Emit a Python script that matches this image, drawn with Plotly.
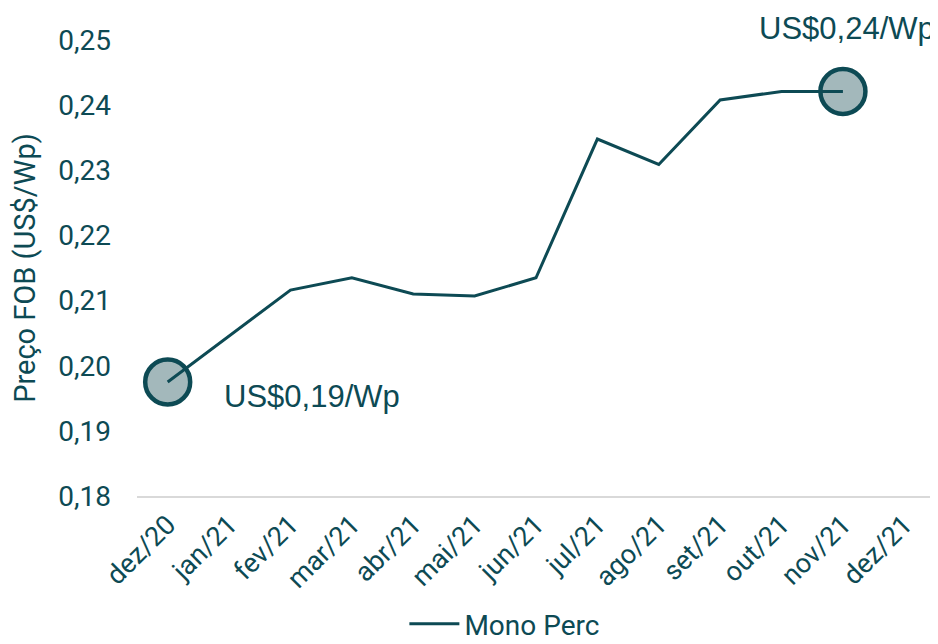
import plotly.graph_objects as go

categories = ["dez/20", "jan/21", "fev/21", "mar/21", "abr/21", "mai/21", "jun/21",
              "jul/21", "ago/21", "set/21", "out/21", "nov/21", "dez/21"]
mono_perc = [0.1975, 0.2046, 0.2116, 0.2135, 0.2110, 0.2107, 0.2135,
             0.2348, 0.2309, 0.2408, 0.2421, 0.2421]
y_ticks = [0.18, 0.19, 0.20, 0.21, 0.22, 0.23, 0.24, 0.25]
y_tick_text = ["0,18", "0,19", "0,20", "0,21", "0,22", "0,23", "0,24", "0,25"]
highlight_idx = [0, 11]
highlight_text = ["US$0,19/Wp", "US$0,24/Wp"]

DARK = "#0d4a54"
FILL = "#a3b8bb"

fig = go.Figure()
fig.add_trace(go.Scatter(
    x=[categories[i] for i in highlight_idx],
    y=[mono_perc[i] for i in highlight_idx],
    mode="markers", cliponaxis=False,
    marker=dict(size=45, color=FILL, line=dict(color=DARK, width=4.5)),
    showlegend=False, hoverinfo="skip"))
fig.add_trace(go.Scatter(
    x=categories[:len(mono_perc)], y=mono_perc, mode="lines",
    name="Mono Perc", line=dict(color=DARK, width=3)))

fig.add_annotation(x=categories[highlight_idx[0]], y=mono_perc[highlight_idx[0]],
                   text=highlight_text[0], showarrow=False, xanchor="left",
                   xshift=54, yshift=-14,
                   font=dict(family="Liberation Sans, Arial", size=31, color=DARK))
fig.add_annotation(x=categories[highlight_idx[1]], y=mono_perc[highlight_idx[1]],
                   text=highlight_text[1], showarrow=False, xanchor="center",
                   xshift=4, yshift=63,
                   font=dict(family="Liberation Sans, Arial", size=31, color=DARK))

# page body has an 8px default margin, so the figure is sized to fit the window
fig.update_layout(
    width=930, height=636,
    margin=dict(l=129, r=3, t=32, b=148, autoexpand=False),
    plot_bgcolor="white", paper_bgcolor="white",
    font=dict(family="Roboto", size=28, color=DARK),
    legend=dict(orientation="h", x=0.461, xanchor="center", y=-0.226, yanchor="top",
                font=dict(size=28, color=DARK), itemwidth=50),
    xaxis=dict(type="category", categoryorder="array", categoryarray=categories,
               range=[-0.5, len(categories) - 0.5], automargin=False,
               showgrid=False, showline=True, linecolor="#d9d9d9", linewidth=2,
               ticks="", tickangle=-45, tickfont=dict(size=27, color=DARK)),
    yaxis=dict(range=[0.18, 0.25], tickvals=y_ticks, ticktext=y_tick_text,
               automargin=False,
               showgrid=False, zeroline=False, showline=False, ticks="",
               ticklabelstandoff=25, tickfont=dict(size=28, color=DARK),
               title=dict(text="Preço FOB (US$/Wp)", font=dict(size=29, color=DARK),
                          standoff=14)),
)

fig.write_html("out.html")
